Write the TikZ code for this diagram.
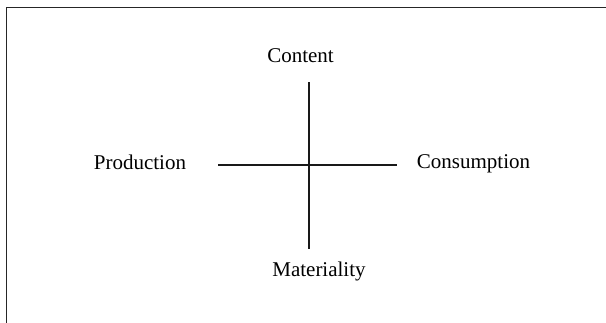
\documentclass[tikz,border=0pt]{standalone}
\usepackage{fontspec}
\setmainfont{Liberation Serif}
\usepackage{tikz}
\usetikzlibrary{positioning}

\begin{document}
\begin{tikzpicture}[
  x=1pt, y=-1pt,
  axis/.style={line width=2.6pt, black!90},
  frameline/.style={line width=1.3pt, black!85},
  mylabel/.style={anchor=base, inner sep=0pt, font=\fontsize{21}{25}\selectfont}
]
\useasboundingbox (0,0) rectangle (606,322);
\clip (0,0) rectangle (606,322);

% open frame, only top and left show
\draw[frameline] (620,7.5) -- (6.5,7.5) -- (6.5,340);

% ends of the two axes
\coordinate (top) at (309,82);
\coordinate (bottom) at (309,249);
\coordinate (left) at (218,165);
\coordinate (right) at (397,165);

\draw[axis] (top) -- (bottom);
\draw[axis] (left) -- (right);

\node[mylabel] (content) at (300.5,62) {Content};
\node[mylabel] (materiality) at (319,276) {Materiality};
\node[mylabel] (production) at (140,169) {Production};
\node[mylabel] (consumption) at (473.5,168.5) {Consumption};

\end{tikzpicture}
\end{document}
